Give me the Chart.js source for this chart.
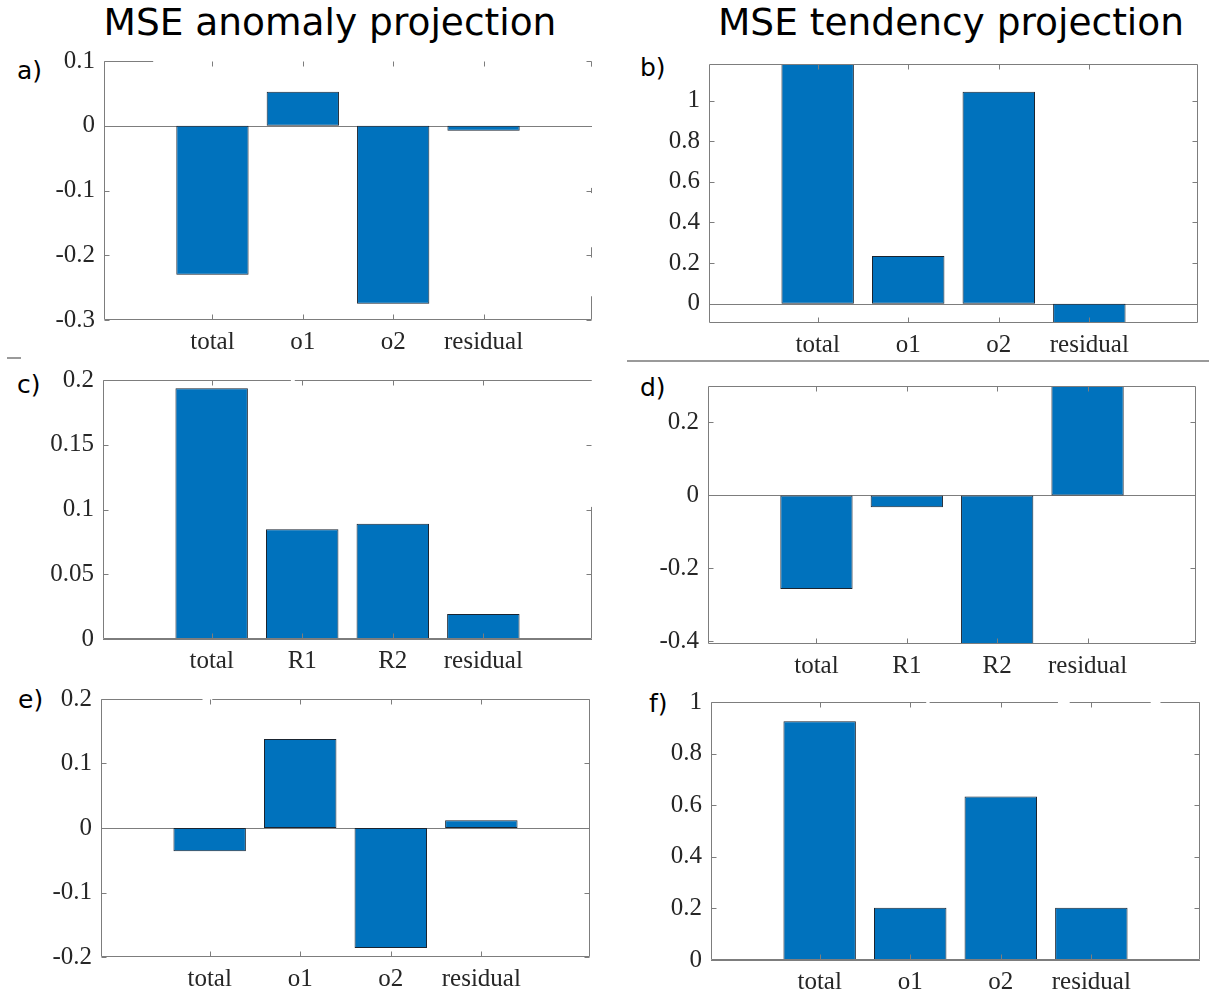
<!DOCTYPE html>
<html>
<head>
<meta charset="utf-8">
<script src="https://cdn.jsdelivr.net/npm/chart.js@4.4.1/dist/chart.umd.min.js"></script>
<style>
  html, body { margin: 0; padding: 0; background: #fff; }
  body { position: relative; width: 1209px; height: 993px; overflow: hidden; }
  .title { position: absolute; font-family: 'DejaVu Sans', sans-serif; font-size: 37.5px; line-height: 42px;
           color: #000; white-space: nowrap; transform: translateX(-50%); }
  .tag { position: absolute; font-family: 'DejaVu Sans', sans-serif; font-size: 25px; line-height: 30px; color: #000; }
  .rule { position: absolute; height: 2px; background: #9a9a9a; }
  canvas { position: absolute; }
</style>
</head>
<body>
<div class="title" style="left:330px; top:1px;">MSE anomaly projection</div>
<div class="title" style="left:951px; top:1px;">MSE tendency projection</div>

<div class="tag" style="left:17px; top:56px;">a)</div>
<div class="tag" style="left:640px; top:53px;">b)</div>
<div class="tag" style="left:17px; top:370px;">c)</div>
<div class="tag" style="left:640px; top:373px;">d)</div>
<div class="tag" style="left:18px; top:685px;">e)</div>
<div class="tag" style="left:649px; top:689px;">f)</div>

<div class="rule" style="left:627px; top:360px; width:582px;"></div>
<div class="rule" style="left:7px; top:357px; width:14px;"></div>

<canvas id="pa"></canvas>
<canvas id="pb"></canvas>
<canvas id="pc"></canvas>
<canvas id="pd"></canvas>
<canvas id="pe"></canvas>
<canvas id="pf"></canvas>

<script>
// ---- categories ----
const categoriesO = ['total', 'o1', 'o2', 'residual'];
const categoriesR = ['total', 'R1', 'R2', 'residual'];

// ---- bar values ----
const anomalyO   = [-0.230, 0.0526, -0.275, -0.0077];   // a)
const tendencyO  = [1.18, 0.235, 1.043, -0.095];        // b)
const anomalyR   = [0.1936, 0.0848, 0.0889, 0.0193];    // c)
const tendencyR  = [-0.256, -0.032, -0.407, 0.300];     // d)
const anomalyO2  = [-0.036, 0.138, -0.186, 0.012];      // e)
const tendencyO2 = [0.925, 0.203, 0.634, 0.203];        // f)

// ---- y tick values ----
const ticksA = [-0.3, -0.2, -0.1, 0, 0.1];
const ticksB = [0, 0.2, 0.4, 0.6, 0.8, 1];
const ticksC = [0, 0.05, 0.1, 0.15, 0.2];
const ticksD = [-0.4, -0.2, 0, 0.2];
const ticksE = [-0.2, -0.1, 0, 0.1, 0.2];
const ticksF = [0, 0.2, 0.4, 0.6, 0.8, 1];

// ---- y limits (null = tight to the data) ----
const limitsA = [-0.3, 0.1];
const limitsB = null;
const limitsC = [0, 0.2];
const limitsD = null;
const limitsE = [-0.2, 0.2];
const limitsF = [0, 1];

// x range around the four bar positions 1..4
const xRange = [-0.2, 5.2];

const BAR_FILL = '#0072BD';
const BAR_EDGE = '#1a2430';
const AXIS_GRAY = '#7d7d7d';
const TEXT = '#262626';
const TICK_FONT = { family: "'Liberation Serif', serif", size: 25 };

// Space reserved round each plot box inside its canvas
const PAD_L = 100, PAD_T = 30, PAD_R = 15, PAD_B = 60;
const TICK_LEN = 5;

// Box frame with inward ticks, plus the zero baseline
const boxAxes = {
  id: 'boxAxes',
  beforeDatasetsDraw(chart) {
    const { ctx, chartArea: a, scales: { y } } = chart;
    const y0 = Math.round(y.getPixelForValue(0)) + 0.5;
    ctx.save();
    ctx.strokeStyle = AXIS_GRAY;
    ctx.lineWidth = 1;
    ctx.beginPath();
    ctx.moveTo(a.left, y0);
    ctx.lineTo(a.right, y0);
    ctx.stroke();
    ctx.restore();
  },
  afterDatasetsDraw(chart, args, opts) {
    const { ctx, chartArea: a, scales: { x, y } } = chart;
    const L = Math.round(a.left) + 0.5, R = Math.round(a.right) - 0.5;
    const T = Math.round(a.top) + 0.5, B = Math.round(a.bottom) - 0.5;
    ctx.save();
    ctx.strokeStyle = AXIS_GRAY;
    ctx.lineWidth = 1;

    const seg = (x0, y0, x1, y1, gaps) => {
      let pos = 0;
      const parts = [];
      (gaps || []).slice().sort((p, q) => p[0] - q[0]).forEach(g => {
        if (g[0] > pos) parts.push([pos, g[0]]);
        pos = Math.max(pos, g[1]);
      });
      if (pos < 1) parts.push([pos, 1]);
      ctx.beginPath();
      parts.forEach(([f0, f1]) => {
        ctx.moveTo(x0 + (x1 - x0) * f0, y0 + (y1 - y0) * f0);
        ctx.lineTo(x0 + (x1 - x0) * f1, y0 + (y1 - y0) * f1);
      });
      ctx.stroke();
    };

    seg(L, T, L, B, null);
    seg(L, B, R, B, null);
    seg(L, T, R, T, opts.topGaps);
    seg(R, T, R, B, opts.rightGaps);

    ctx.beginPath();
    x.ticks.forEach(t => {
      const px = Math.round(x.getPixelForValue(t.value)) + 0.5;
      ctx.moveTo(px, B); ctx.lineTo(px, B - TICK_LEN);
      ctx.moveTo(px, T); ctx.lineTo(px, T + TICK_LEN);
    });
    y.ticks.forEach(t => {
      const py = Math.round(y.getPixelForValue(t.value)) + 0.5;
      ctx.moveTo(L, py); ctx.lineTo(L + TICK_LEN, py);
      ctx.moveTo(R, py); ctx.lineTo(R - TICK_LEN, py);
    });
    ctx.stroke();
    ctx.restore();
  }
};

function drawPanel(id, box, categories, values, yTicks, limits, frame) {
  const cv = document.getElementById(id);
  cv.width = box.w + PAD_L + PAD_R;
  cv.height = box.h + PAD_T + PAD_B;
  cv.style.left = (box.l - PAD_L) + 'px';
  cv.style.top = (box.t - PAD_T) + 'px';

  const yMin = limits ? limits[0] : Math.min(...values);
  const yMax = limits ? limits[1] : Math.max(...values);

  new Chart(cv, {
    type: 'bar',
    data: {
      datasets: [{
        data: values.map((v, i) => ({ x: i + 1, y: v })),
        backgroundColor: BAR_FILL,
        borderColor: BAR_EDGE,
        borderWidth: 1,
        borderSkipped: false,
        barPercentage: 0.8,
        categoryPercentage: 1
      }]
    },
    options: {
      responsive: false,
      animation: false,
      events: [],
      layout: { padding: { left: 0, top: PAD_T, right: PAD_R, bottom: 0 } },
      plugins: {
        legend: { display: false },
        tooltip: { enabled: false },
        boxAxes: frame
      },
      scales: {
        x: {
          type: 'linear',
          offset: false,
          min: xRange[0],
          max: xRange[1],
          grid: { display: false, drawTicks: false, tickLength: 0 },
          border: { display: false },
          afterBuildTicks: s => { s.ticks = categories.map((c, i) => ({ value: i + 1 })); },
          afterFit: s => { s.height = PAD_B; },
          ticks: {
            autoSkip: false, maxRotation: 0, minRotation: 0, padding: 7,
            color: TEXT, font: TICK_FONT,
            callback: v => categories[Math.round(v) - 1] || ''
          }
        },
        y: {
          type: 'linear',
          min: yMin,
          max: yMax,
          grid: { display: false, drawTicks: false, tickLength: 0 },
          border: { display: false },
          afterBuildTicks: s => { s.ticks = yTicks.map(v => ({ value: v })); },
          afterFit: s => { s.width = PAD_L; },
          ticks: {
            autoSkip: false, padding: 9,
            color: TEXT, font: TICK_FONT,
            callback: v => String(v)
          }
        }
      }
    },
    plugins: [boxAxes]
  });
}

drawPanel('pa', { l: 104, t: 61, w: 488, h: 259 }, categoriesO, anomalyO, ticksA, limitsA,
  { topGaps: [[0.1, 1]], rightGaps: [[0.02, 0.49], [0.51, 0.72], [0.76, 0.91]] });
drawPanel('pb', { l: 709, t: 64, w: 489, h: 259 }, categoriesO, tendencyO, ticksB, limitsB,
  { topGaps: [], rightGaps: [] });
drawPanel('pc', { l: 103, t: 380, w: 489, h: 259 }, categoriesR, anomalyR, ticksC, limitsC,
  { topGaps: [[0.384, 0.392]], rightGaps: [[0, 0.49]] });
drawPanel('pd', { l: 708, t: 386, w: 488, h: 258 }, categoriesR, tendencyR, ticksD, limitsD,
  { topGaps: [], rightGaps: [] });
drawPanel('pe', { l: 101, t: 699, w: 489, h: 258 }, categoriesO, anomalyO2, ticksE, limitsE,
  { topGaps: [[0.207, 0.227]], rightGaps: [] });
drawPanel('pf', { l: 711, t: 702, w: 489, h: 258 }, categoriesO, tendencyO2, ticksF, limitsF,
  { topGaps: [[0.44, 0.447], [0.71, 0.734], [0.9, 0.92]], rightGaps: [] });
</script>
</body>
</html>
